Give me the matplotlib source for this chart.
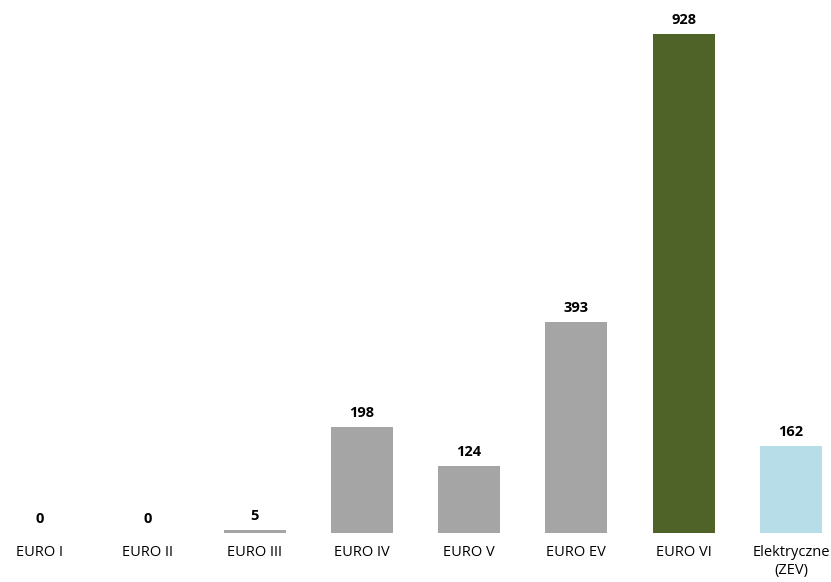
import matplotlib
matplotlib.use("Agg")
import matplotlib.pyplot as plt

categories = ["EURO I", "EURO II", "EURO III", "EURO IV", "EURO V",
              "EURO EV", "EURO VI", "Elektryczne\n(ZEV)"]
values = [0, 0, 5, 198, 124, 393, 928, 162]
colors = ["#A5A5A5"] * 6 + ["#4F6228", "#B7DEE8"]

plt.rcParams["font.family"] = ["Open Sans", "DejaVu Sans"]

W, H = 831, 582
fig = plt.figure(figsize=(W / 100, H / 100), dpi=100)
# axes spans from the top of the image down to the bar baseline
base_px = 533
ax = fig.add_axes([0, (H - base_px) / H, 1, base_px / H])

spacing = (791 - 40) / 7
x = list(range(len(categories)))
ax.bar(x, values, width=62 / spacing, color=colors)
ax.set_xlim(-40 / spacing, 7 + 40 / spacing)
top_px = 34
ax.set_ylim(0, 928 * base_px / (base_px - top_px))

for xi, v in zip(x, values):
    ax.annotate(str(v), (xi, v), xytext=(0, 5), textcoords="offset points",
                ha="center", va="bottom", fontsize=10.5, fontweight="bold")

ax.set_xticks(x)
ax.set_xticklabels(categories, fontsize=10.5, va="top", linespacing=1.25)
ax.tick_params(axis="x", length=0, pad=9)
ax.set_yticks([])
for s in ax.spines.values():
    s.set_visible(False)

fig.savefig("out.png", dpi=100)
